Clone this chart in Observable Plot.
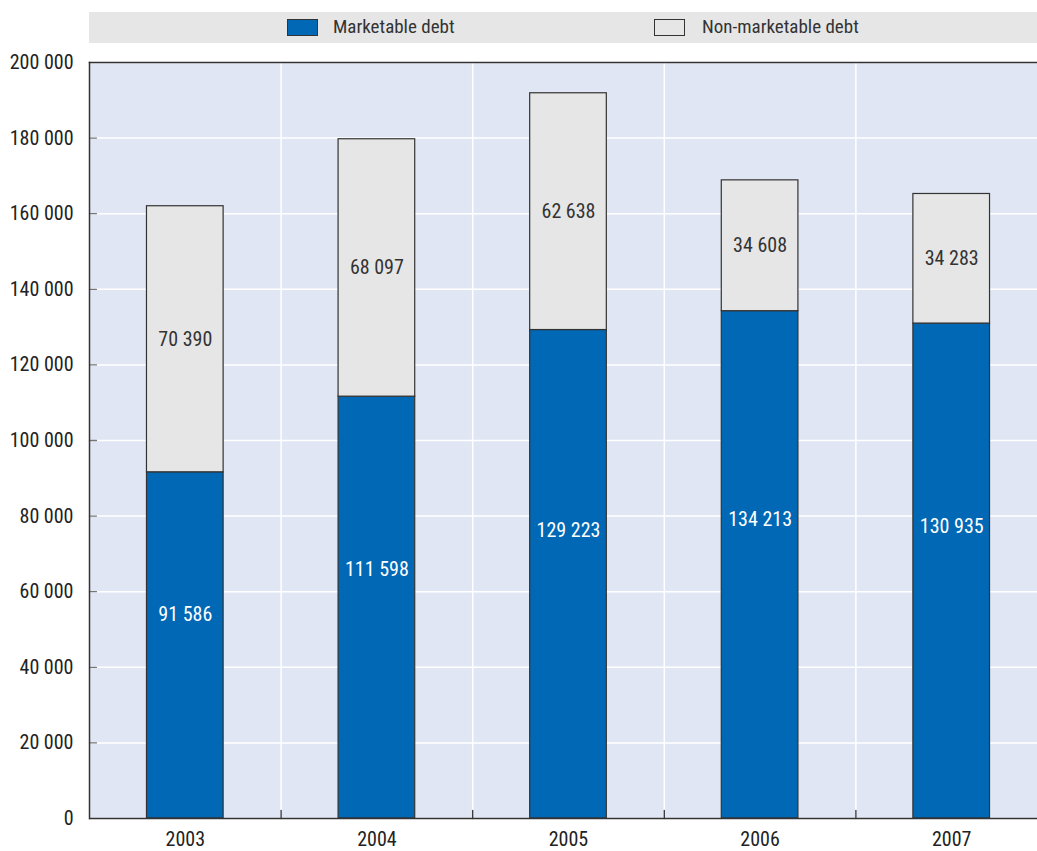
<!DOCTYPE html>
<html>
<head>
<meta charset="utf-8">
<script src="https://cdn.jsdelivr.net/npm/d3@7"></script>
<script src="https://cdn.jsdelivr.net/npm/@observablehq/plot@0.6"></script>
<style>
  html, body { margin: 0; background: #fff; overflow: hidden; font-family: "Roboto Condensed", "Liberation Sans Narrow", sans-serif; }
  #legend { position: relative; margin-top: 12px; margin-left: 89px; width: 948px; height: 31px; background: #e6e6e6; color: #333; font-size: 19px; }
  #legend .sw { position: absolute; top: 7px; width: 29px; height: 15px; border: 1px solid #333; }
  #legend .lb { position: absolute; top: 4px; line-height: 22px; }
  #chart { width: 1037px; overflow: hidden; }
  #chart svg { display: block; max-width: none !important; width: 1047px !important; height: 808px !important; }
</style>
</head>
<body>
<div id="legend"></div>
<div id="chart"></div>
<script>
const years = ["2003", "2004", "2005", "2006", "2007"];
const marketable = [91586, 111598, 129223, 134213, 130935];
const nonMarketable = [70390, 68097, 62638, 34608, 34283];
const seriesNames = ["Marketable debt", "Non-marketable debt"];
const seriesColors = ["#0068b5", "#e6e6e6"];
const yTicks = [0, 20000, 40000, 60000, 80000, 100000, 120000, 140000, 160000, 180000, 200000];

const fmt = d3.formatLocale({decimal: ".", thousands: " ", grouping: [3], currency: ["", ""]}).format(",d");

// legend
const legend = document.getElementById("legend");
const legendPos = [[198, 244], [565, 613]];
seriesNames.forEach((name, i) => {
  const sw = document.createElement("div");
  sw.className = "sw"; sw.style.left = legendPos[i][0] + "px"; sw.style.background = seriesColors[i];
  const lb = document.createElement("div");
  lb.className = "lb"; lb.style.left = legendPos[i][1] + "px"; lb.textContent = name;
  legend.appendChild(sw); legend.appendChild(lb);
});

const rows = [];
years.forEach((y, i) => {
  rows.push({year: y, series: seriesNames[0], value: marketable[i], lo: 0, hi: marketable[i]});
  rows.push({year: y, series: seriesNames[1], value: nonMarketable[i], lo: marketable[i], hi: marketable[i] + nonMarketable[i]});
});

const width = 1047, marginLeft = 89, marginRight = 0;
const step = (width - marginLeft - marginRight) / years.length;
const dark = "#333";
const fontFamily = '"Roboto Condensed", "Liberation Sans Narrow", sans-serif';

const upTick = {draw(context, l) { context.moveTo(0, 0); context.lineTo(0, -l); }};
const rightTick = {draw(context, l) { context.moveTo(0, 0); context.lineTo(l, 0); }};

const chart = Plot.plot({
  width,
  height: 808,
  marginLeft, marginRight,
  marginTop: 19,
  marginBottom: 33,
  style: {fontFamily, fontSize: "20px", color: "#222", background: "transparent", maxWidth: "none"},
  x: {domain: years, paddingInner: 0.6, paddingOuter: 0.3, round: false, label: null},
  y: {domain: [0, 200000], label: null},
  marks: [
    Plot.frame({fill: "#e0e6f4", stroke: null}),
    Plot.ruleY(yTicks, {stroke: "#fff", strokeWidth: 1.5}),
    Plot.ruleX(years.slice(0, -1), {dx: step / 2, stroke: "#fff", strokeWidth: 1.5}),
    Plot.rectY(rows, {x: "year", y1: "lo", y2: "hi", fill: "series", stroke: dark, strokeWidth: 1.2}),
    Plot.text(rows, {
      x: "year",
      y: d => d.series === seriesNames[0] ? d.lo + (d.hi - d.lo) * 0.59 : (d.lo + d.hi) / 2,
      text: d => fmt(d.value),
      fill: d => d.series === seriesNames[0] ? "#fff" : "#333",
      fontSize: 20
    }),
    Plot.vector(years.slice(0, -1), {x: d => d, y: () => 0, dx: step / 2, length: 8, shape: upTick, anchor: "start", stroke: dark, strokeWidth: 1.3}),
    Plot.vector(yTicks.slice(1, -1), {y: d => d, frameAnchor: "left", length: 7, shape: rightTick, anchor: "start", stroke: "#777", strokeWidth: 1.3}),
    Plot.axisY(yTicks, {tickFormat: fmt, tickSize: 0, tickPadding: 16, fill: "#222", fontSize: 20}),
    Plot.axisX({tickSize: 0, tickPadding: 13, fill: "#222", fontSize: 20}),
    Plot.frame({anchor: "top", stroke: dark, strokeWidth: 1.5}),
    Plot.frame({anchor: "left", stroke: dark, strokeWidth: 1.5}),
    Plot.ruleY([0], {stroke: dark, strokeWidth: 1.5})
  ],
  color: {domain: seriesNames, range: seriesColors}
});
document.getElementById("chart").appendChild(chart);
</script>
</body>
</html>
